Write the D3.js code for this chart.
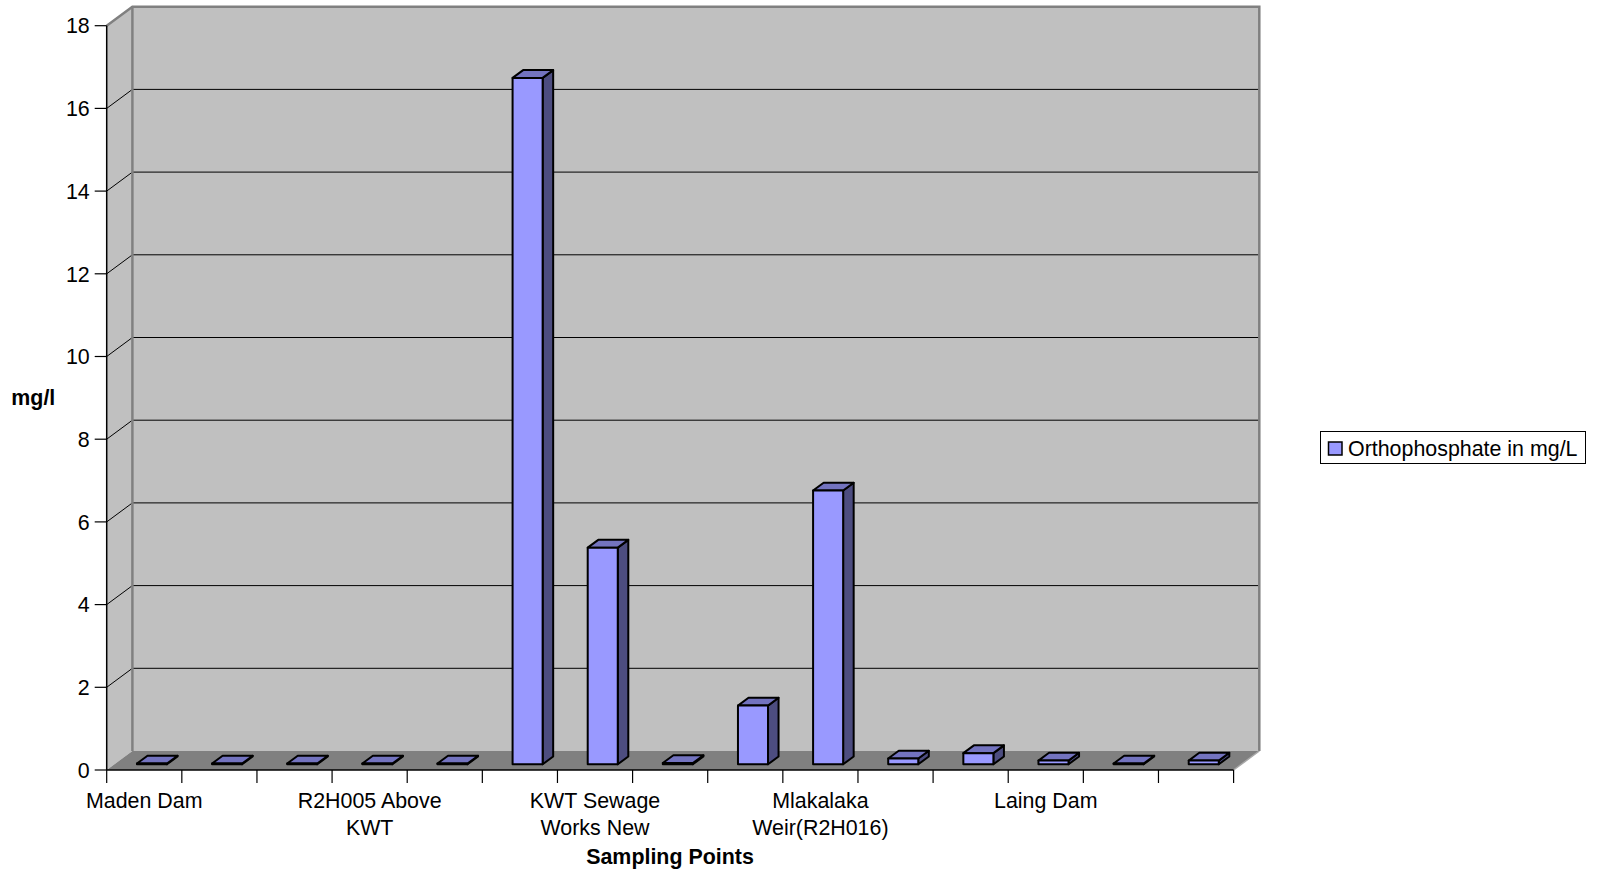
<!DOCTYPE html>
<html>
<head>
<meta charset="utf-8">
<script src="https://cdn.jsdelivr.net/npm/d3@7/dist/d3.min.js"></script>
<style>
  html, body { margin: 0; padding: 0; background: #ffffff; }
  svg { display: block; font-family: Arial, "Liberation Sans", sans-serif; }
</style>
</head>
<body>
<svg id="chart" width="1603" height="874"></svg>
<script>
// Sampling points along the river (only every third name fits under the axis)
const categories = d3.range(1, 16);
const categoryLabels = [
  "Maden Dam", "", "",
  "R2H005 Above\nKWT", "", "",
  "KWT Sewage\nWorks New", "", "",
  "Mlakalaka\nWeir(R2H016)", "", "",
  "Laing Dam", "", ""
];
// Orthophosphate concentration, mg/L
const orthophosphate = [0.02, 0.02, 0.02, 0.02, 0.02, 16.6, 5.24, 0.03, 1.42, 6.62, 0.14, 0.27, 0.09, 0.02, 0.09];
const yTicks = [0, 2, 4, 6, 8, 10, 12, 14, 16, 18];
const seriesName = "Orthophosphate in mg/L";
const yTitle = "mg/l";
const xTitle = "Sampling Points";

const svg = d3.select("#chart");
const fontSize = 21.4;

// Front plane of the plot box and the oblique depth vector
const plotLeft = 106.7, plotRight = 1233.6, plotBottom = 770, plotTop = 25.7;
const depth = { dx: 25.7, dy: -19 };

const xCat = d3.scaleBand().domain(categories).range([plotLeft, plotRight]).padding(0);
const y = d3.scaleLinear().domain([0, 18]).range([plotBottom, plotTop]);

const wallFill = "#c0c0c0", floorFill = "#808080", edge = "#808080";
const pt = (p) => p.map(d => d.join(",")).join(" ");

// Left side wall
svg.append("polygon")
  .attr("points", pt([[plotLeft, plotTop], [plotLeft + depth.dx, plotTop + depth.dy], [plotLeft + depth.dx, plotBottom + depth.dy], [plotLeft, plotBottom]]))
  .attr("fill", wallFill);

// Back wall
const bx0 = plotLeft + depth.dx, bx1 = plotRight + depth.dx;
const by0 = plotTop + depth.dy, by1 = plotBottom + depth.dy;
svg.append("rect")
  .attr("x", bx0).attr("y", by0)
  .attr("width", bx1 - bx0).attr("height", by1 - by0)
  .attr("fill", wallFill);

// Floor
svg.append("polygon")
  .attr("points", pt([[plotLeft, plotBottom], [plotRight, plotBottom], [plotRight + depth.dx, plotBottom + depth.dy], [plotLeft + depth.dx, plotBottom + depth.dy]]))
  .attr("fill", floorFill);

// Gridlines: across the side wall, then along the back wall
const grid = svg.append("g");
yTicks.filter(t => t > 0).forEach(t => {
  const yy = y(t);
  grid.append("polyline")
    .attr("points", pt([[plotLeft, yy], [bx0, yy + depth.dy], [bx1, yy + depth.dy]]))
    .attr("fill", "none").attr("stroke", "#000").attr("stroke-width", 1);
});

// Wall edges
svg.append("polyline")
  .attr("points", pt([[plotLeft, plotTop], [bx0, by0], [bx1, by0], [bx1, by1]]))
  .attr("fill", "none").attr("stroke", edge).attr("stroke-width", 2.5);
svg.append("line")
  .attr("x1", bx0).attr("x2", bx0).attr("y1", by0).attr("y2", by1)
  .attr("stroke", edge).attr("stroke-width", 2.5);
svg.append("line")
  .attr("x1", plotRight).attr("y1", plotBottom).attr("x2", bx1).attr("y2", by1)
  .attr("stroke", "#a8a8a8").attr("stroke-width", 1.5);

// Columns
const bw = xCat.bandwidth();
const f0 = 0.3, f1 = 0.71;
const fx = depth.dx * f0, fy = depth.dy * f0;
const kx = depth.dx * f1, ky = depth.dy * f1;
const bars = svg.append("g")
  .attr("stroke", "#000").attr("stroke-width", 2).attr("stroke-linejoin", "round");
categories.forEach((c, i) => {
  const v = orthophosphate[i];
  const xl = xCat(c) + bw * 0.3, xr = xl + bw * 0.4;
  const yt = y(v), yb = y(0);
  // right side face
  bars.append("polygon")
    .attr("points", pt([[xr + fx, yt + fy], [xr + kx, yt + ky], [xr + kx, yb + ky], [xr + fx, yb + fy]]))
    .attr("fill", "#4d4d80");
  // top face
  bars.append("polygon")
    .attr("points", pt([[xl + fx, yt + fy], [xl + kx, yt + ky], [xr + kx, yt + ky], [xr + fx, yt + fy]]))
    .attr("fill", "#7373bf");
  // front face
  bars.append("rect")
    .attr("x", xl + fx).attr("y", yt + fy)
    .attr("width", xr - xl).attr("height", Math.max(0, yb - yt))
    .attr("fill", "#9999ff");
});

// Value axis
const yAxis = svg.append("g");
yAxis.append("line")
  .attr("x1", plotLeft).attr("x2", plotLeft).attr("y1", plotTop).attr("y2", plotBottom)
  .attr("stroke", "#000").attr("stroke-width", 1.5);
yTicks.forEach(t => {
  yAxis.append("line")
    .attr("x1", plotLeft - 12).attr("x2", plotLeft).attr("y1", y(t)).attr("y2", y(t))
    .attr("stroke", "#000").attr("stroke-width", 1.2);
  yAxis.append("text")
    .attr("x", plotLeft - 17).attr("y", y(t)).attr("dy", "0.36em")
    .attr("text-anchor", "end").attr("font-size", fontSize).attr("fill", "#000")
    .text(t);
});

// Category axis
const xAxis = svg.append("g");
xAxis.append("line")
  .attr("x1", plotLeft).attr("x2", plotRight).attr("y1", plotBottom).attr("y2", plotBottom)
  .attr("stroke", "#000").attr("stroke-width", 1.5);
const bounds = categories.map(c => xCat(c)).concat([plotRight]);
bounds.forEach(xx => {
  xAxis.append("line")
    .attr("x1", xx).attr("x2", xx).attr("y1", plotBottom).attr("y2", plotBottom + 13)
    .attr("stroke", "#000").attr("stroke-width", 1.2);
});
categories.forEach((c, i) => {
  const lab = categoryLabels[i];
  if (!lab) return;
  const t = xAxis.append("text")
    .attr("text-anchor", "middle").attr("font-size", fontSize).attr("fill", "#000");
  lab.split("\n").forEach((line, k) => {
    t.append("tspan")
      .attr("x", xCat(c) + bw / 2).attr("y", 808 + k * 26.6)
      .text(line);
  });
});

// Axis titles
svg.append("text")
  .attr("x", 33.3).attr("y", 405).attr("text-anchor", "middle")
  .attr("font-size", fontSize).attr("font-weight", "bold").text(yTitle);
svg.append("text")
  .attr("x", 670).attr("y", 864).attr("text-anchor", "middle")
  .attr("font-size", fontSize).attr("font-weight", "bold").text(xTitle);

// Legend
const lg = svg.append("g");
lg.append("rect")
  .attr("x", 1320.5).attr("y", 431.5).attr("width", 265).attr("height", 32)
  .attr("fill", "#fff").attr("stroke", "#000").attr("stroke-width", 1);
lg.append("rect")
  .attr("x", 1328.5).attr("y", 442).attr("width", 13.5).attr("height", 13)
  .attr("fill", "#9999ff").attr("stroke", "#000").attr("stroke-width", 1.5);
lg.append("text")
  .attr("x", 1348).attr("y", 455.5)
  .attr("font-size", fontSize).attr("fill", "#000").text(seriesName);
</script>
</body>
</html>
